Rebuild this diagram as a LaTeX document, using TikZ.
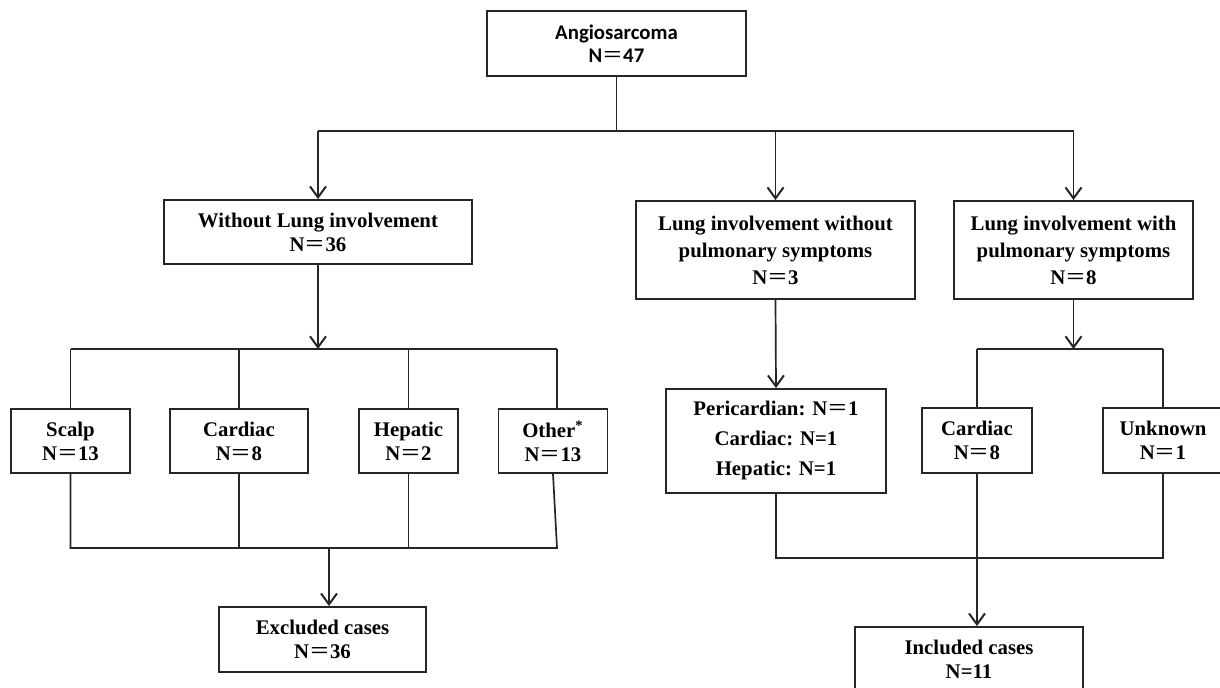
\documentclass[tikz,border=0pt]{standalone}
\usepackage{fontspec}
\setmainfont{Liberation Serif}
\newfontfamily\titlefont{Carlito}
\newfontfamily\cjk{Noto Sans CJK SC}
\usetikzlibrary{arrows.meta}
\newcommand{\eqw}{{\cjk\mdseries ＝}}

\begin{document}
\begin{tikzpicture}[x=0.5pt, y=-0.5pt,
  every node/.style={font=\bfseries\fontsize{10.4}{12}\selectfont},
  box/.style={draw=black!85, line width=0.9pt, align=center, inner sep=0pt},
  link/.style={draw=black!85, line width=0.85pt},
  arr/.style={link, -{Straight Barb[length=5.5pt, width=8pt, line width=1pt]}}]
  \useasboundingbox (0,0) rectangle (1220,688);

  % Boxes
  \node[box, minimum width=129.5pt, minimum height=32.5pt,
        font=\titlefont\bfseries\fontsize{10.4}{11.5}\selectfont] (angio) at (616.5,43.5) {Angiosarcoma\\N\eqw47};
  \node[box, minimum width=154pt, minimum height=32pt] (without) at (318,232) {Without Lung involvement\\N\eqw36};
  \node[box, minimum width=139.5pt, minimum height=49pt] (lungno) at (775.5,250) {Lung involvement without\\[1.5pt]pulmonary symptoms\\[1.5pt]N\eqw3};
  \node[box, minimum width=119.5pt, minimum height=49pt] (lungyes) at (1073.5,250) {Lung involvement with\\[1.5pt]pulmonary symptoms\\[1.5pt]N\eqw8};

  \node[box, minimum width=59.5pt, minimum height=32pt] (scalp) at (70.5,441) {Scalp\\N\eqw13};
  \node[box, minimum width=69pt, minimum height=32pt] (cardL) at (239,441) {Cardiac\\N\eqw8};
  \node[box, minimum width=49.5pt, minimum height=32pt] (hepatic) at (408.5,441) {Hepatic\\N\eqw2};
  \node[box, minimum width=54.5pt, minimum height=32pt] (other) at (553,441) {Other\textsuperscript{*}\\N\eqw13};
  \node[box, minimum width=103.5pt, minimum height=32.5pt] (excluded) at (322.5,639.5) {Excluded cases\\N\eqw36};

  \node[box, minimum width=110pt, minimum height=52pt] (pericard) at (776,441) {Pericardian: N\eqw1\\[3pt]Cardiac: N=1\\[3pt]Hepatic: N=1};
  \node[box, minimum width=55pt, minimum height=32.5pt] (cardR) at (977,440.5) {Cardiac\\N\eqw8};
  \node[box, minimum width=60pt, minimum height=32.5pt] (unknown) at (1163,440.5) {Unknown\\N\eqw1};
  \node[box, minimum width=114pt, minimum height=32.5pt] (included) at (969,659.5) {Included cases\\N=11};

  % Bus points
  \coordinate (topbus) at (616.5,131);
  \coordinate (leftbus) at (319,349);
  \coordinate (otherx) at (557,349);
  \coordinate (otherbot) at (557,548);
  \coordinate (leftjoin) at (329,548);
  \coordinate (rightbus) at (1073.5,349);
  \coordinate (rightjoin) at (975,558);

  % Top level
  \draw[link] (angio.south) -- (topbus);
  \draw[link] (without.north |- topbus) -- (lungyes.north |- topbus);
  \foreach \n in {without, lungno, lungyes}
    \draw[arr] (\n.north |- topbus) -- (\n.north);

  % Without lung involvement
  \draw[arr] (without.south) -- (without.south |- leftbus);
  \draw[link] (scalp.north |- leftbus) -- (otherx);
  \foreach \n in {scalp, cardL, hepatic}
    \draw[link] (\n.north |- leftbus) -- (\n.north);
  \draw[link] (otherx) -- (otherx |- other.north);
  \draw[link] (scalp.south) -- (scalp.south |- otherbot) -- (otherbot) -- (other.south);
  \foreach \n in {cardL, hepatic}
    \draw[link] (\n.south) -- (\n.south |- otherbot);
  \draw[arr] (leftjoin) -- (leftjoin |- excluded.north);

  % Lung involvement
  \draw[arr] (lungno.south) -- (pericard.north);
  \draw[arr] (lungyes.south) -- (rightbus);
  \draw[link] (cardR.north |- rightbus) -- (unknown.north |- rightbus);
  \foreach \n in {cardR, unknown}
    \draw[link] (\n.north |- rightbus) -- (\n.north);
  \draw[link] (pericard.south) -- (pericard.south |- rightjoin) -- (unknown.south |- rightjoin) -- (unknown.south);
  \draw[arr] (cardR.south) -- (cardR.south |- included.north);
\end{tikzpicture}
\end{document}
